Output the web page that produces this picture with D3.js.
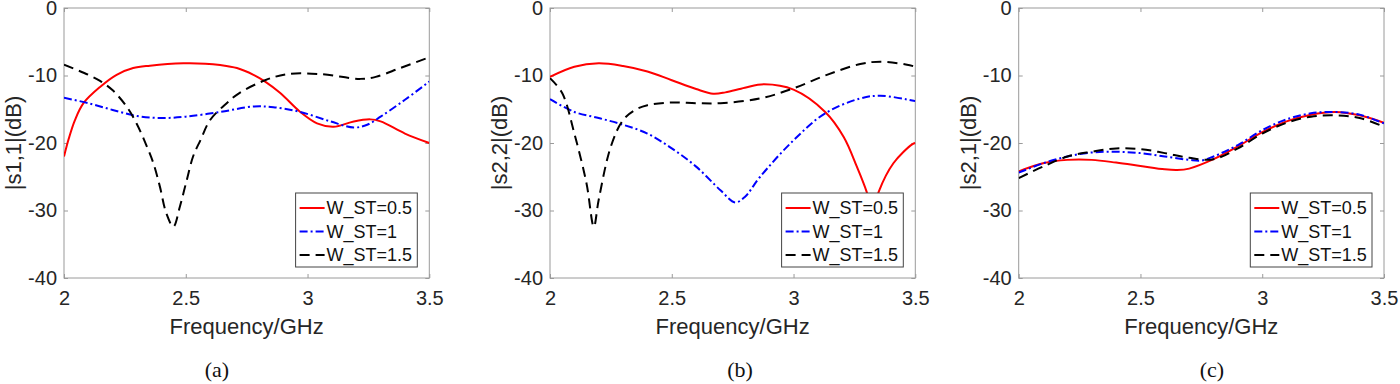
<!doctype html>
<html>
<head>
<script src="https://d3js.org/d3.v7.min.js"></script>
<style>
  body { margin: 0; background: #fff; }
  svg { display: block; }
</style>
</head>
<body>
<svg width="1400" height="384"></svg>
<script>
// ---- data (frequency GHz, dB) ----
var xTicks = [2, 2.5, 3, 3.5];
var xTickLabels = ["2", "2.5", "3", "3.5"];
var yTicks = [0, -10, -20, -30, -40];
var seriesNames = ["W_ST=0.5", "W_ST=1", "W_ST=1.5"];

// (a) |s1,1|
var s11_w05 = [[2,-22],[2.02,-19.3],[2.045,-16.6],[2.08,-14.1],[2.148,-11.7],[2.216,-9.9],[2.284,-8.9],[2.353,-8.55],[2.49,-8.2],[2.58,-8.25],[2.641,-8.45],[2.71,-8.9],[2.778,-9.9],[2.826,-10.9],[2.888,-12.6],[2.97,-15.4],[3.039,-17.1],[3.107,-17.6],[3.19,-16.8],[3.258,-16.5],[3.3,-16.8],[3.4,-18.6],[3.5,-20]];
var s11_w1  = [[2,-13.3],[2.1,-14.1],[2.2,-15.1],[2.3,-16],[2.4,-16.3],[2.5,-16.1],[2.641,-15.4],[2.778,-14.6],[2.86,-14.7],[2.97,-15.4],[3.094,-16.8],[3.19,-17.7],[3.245,-17.3],[3.3,-16.1],[3.4,-13.6],[3.5,-10.9]];
var s11_w15 = [[2,-8.4],[2.1,-9.9],[2.148,-10.8],[2.2,-12.2],[2.257,-14.6],[2.298,-17.1],[2.34,-20.5],[2.367,-23],[2.394,-26.5],[2.42,-30.4],[2.449,-32.4],[2.476,-29.4],[2.504,-25.5],[2.53,-22],[2.56,-19.6],[2.6,-16.6],[2.668,-14.1],[2.72,-12.6],[2.826,-10.7],[2.915,-9.8],[3.052,-9.8],[3.217,-10.5],[3.28,-10.2],[3.38,-8.9],[3.5,-7.3]];

// (b) |s2,2|
var s22_w05 = [[2,-10.2],[2.1,-8.7],[2.2,-8.2],[2.3,-8.6],[2.4,-9.4],[2.5,-10.7],[2.6,-12],[2.67,-12.7],[2.72,-12.5],[2.8,-11.8],[2.88,-11.3],[3.0,-12.1],[3.13,-15.4],[3.206,-19.1],[3.26,-23.5],[3.30,-27.2],[3.325,-30.5],[3.35,-27.2],[3.41,-23],[3.487,-20.2],[3.5,-20]];
var s22_w1  = [[2,-13.5],[2.1,-15.4],[2.2,-16.3],[2.3,-17.3],[2.4,-18.6],[2.5,-20.8],[2.6,-23.5],[2.7,-27],[2.76,-28.8],[2.8,-28],[2.863,-25],[3.0,-19.6],[3.13,-15.6],[3.274,-13.4],[3.356,-13],[3.487,-13.7],[3.5,-13.8]];
var s22_w15 = [[2,-10.4],[2.05,-12.6],[2.1,-18.6],[2.15,-26],[2.18,-32.4],[2.2,-28.4],[2.25,-20.5],[2.3,-16.6],[2.35,-15.1],[2.4,-14.4],[2.5,-14],[2.6,-14.1],[2.7,-14.1],[2.863,-13.4],[3.0,-11.9],[3.137,-9.9],[3.274,-8.3],[3.356,-7.95],[3.466,-8.4],[3.5,-8.7]];

// (c) |s2,1|
var s21_w05 = [[2,-24.2],[2.1,-23],[2.2,-22.5],[2.3,-22.5],[2.4,-22.9],[2.5,-23.4],[2.6,-23.9],[2.65,-24],[2.7,-23.8],[2.8,-22.4],[2.9,-20.5],[3.0,-18.4],[3.1,-16.8],[3.2,-15.8],[3.3,-15.4],[3.4,-15.9],[3.5,-17]];
var s21_w1  = [[2,-24.4],[2.1,-23],[2.2,-22],[2.3,-21.4],[2.4,-21.3],[2.5,-21.5],[2.6,-22],[2.7,-22.5],[2.75,-22.6],[2.8,-22],[2.9,-20.3],[3.0,-18.1],[3.1,-16.5],[3.2,-15.6],[3.3,-15.4],[3.4,-15.8],[3.5,-17.1]];
var s21_w15 = [[2,-25.2],[2.1,-23.5],[2.2,-22],[2.3,-21.3],[2.4,-20.8],[2.5,-20.9],[2.6,-21.5],[2.7,-22.2],[2.8,-22.4],[2.9,-20.8],[3.0,-18.6],[3.1,-17],[3.2,-16.1],[3.3,-15.9],[3.4,-16.3],[3.5,-17.6]];

var panels = [
  { left: 64,    ylabel: "|s1,1|(dB)", caption: "(a)", capX: 217,  series: [s11_w05, s11_w1, s11_w15] },
  { left: 550,   ylabel: "|s2,2|(dB)", caption: "(b)", capX: 740,  series: [s22_w05, s22_w1, s22_w15] },
  { left: 1018.7,ylabel: "|s2,1|(dB)", caption: "(c)", capX: 1212, series: [s21_w05, s21_w1, s21_w15] }
];

var styles = [
  { color: "#ff0000", dash: null },
  { color: "#0000ff", dash: "8,3,2,3" },
  { color: "#000000", dash: "10,6" }
];

var svg = d3.select("svg"),
    plotW = 365.3,
    plotTop = 8,
    plotBottom = 278,
    font = "Liberation Sans, Arial, Helvetica, sans-serif";

panels.forEach(function(p, pi) {
  var x = d3.scaleLinear().domain([2, 3.5]).range([p.left, p.left + plotW]);
  var y = d3.scaleLinear().domain([-40, 0]).range([plotBottom, plotTop]);
  var g = svg.append("g");

  var clipId = "clip" + pi;
  g.append("clipPath").attr("id", clipId)
    .append("rect").attr("x", p.left).attr("y", plotTop).attr("width", plotW).attr("height", plotBottom - plotTop);

  // box
  g.append("rect")
    .attr("x", p.left).attr("y", plotTop)
    .attr("width", plotW).attr("height", plotBottom - plotTop)
    .style("fill", "none").style("stroke", "#9a9a9a").style("stroke-width", 1);

  // axes with inward ticks
  var xa = g.append("g").attr("transform", "translate(0," + plotBottom + ")")
    .call(d3.axisBottom(x).tickValues(xTicks).tickFormat(function(d, i) { return xTickLabels[i]; })
      .tickSize(-4).tickPadding(13));
  var xt = g.append("g").attr("transform", "translate(0," + plotTop + ")")
    .call(d3.axisTop(x).tickValues(xTicks).tickSize(-4).tickFormat(""));
  var ya = g.append("g").attr("transform", "translate(" + p.left + ",0)")
    .call(d3.axisLeft(y).tickValues(yTicks).tickFormat(d3.format("d")).tickSize(-4).tickPadding(7));
  var yr = g.append("g").attr("transform", "translate(" + (p.left + plotW) + ",0)")
    .call(d3.axisRight(y).tickValues(yTicks).tickSize(-4).tickFormat(""));
  [xa, xt, ya, yr].forEach(function(a) {
    a.select(".domain").remove();
    a.selectAll("line").style("stroke", "#9a9a9a");
    a.selectAll("text").style("font-family", font).style("font-size", "20px").style("fill", "#262626");
  });
  ya.selectAll("text").text(function(d) { return d === 0 ? "0" : "-" + Math.abs(d); });

  // curves
  var line = d3.line()
    .x(function(d) { return x(d[0]); })
    .y(function(d) { return y(d[1]); })
    .curve(d3.curveCatmullRom.alpha(0.5));

  p.series.forEach(function(s, si) {
    g.append("path")
      .datum(s)
      .attr("d", line)
      .attr("clip-path", "url(#" + clipId + ")")
      .style("fill", "none")
      .style("stroke", styles[si].color)
      .style("stroke-width", 2)
      .style("stroke-dasharray", styles[si].dash);
  });

  // legend
  var lx = p.left + plotW - 12 - 121.7, ly = 193;
  var lg = g.append("g").attr("transform", "translate(" + lx + "," + ly + ")");
  lg.append("rect").attr("width", 121.7).attr("height", 74)
    .style("fill", "#fff").style("stroke", "#444").style("stroke-width", 1);
  seriesNames.forEach(function(name, i) {
    var ry = 15 + i * 23.5;
    lg.append("line").attr("x1", 4).attr("x2", 29).attr("y1", ry).attr("y2", ry)
      .style("stroke", styles[i].color).style("stroke-width", 2)
      .style("stroke-dasharray", styles[i].dash);
    lg.append("text").attr("x", 31).attr("y", ry).attr("dy", "0.36em")
      .style("font-family", font).style("font-size", "18px").style("fill", "#111")
      .text(name);
  });

  // axis labels
  g.append("text")
    .attr("x", p.left + plotW / 2).attr("y", 334)
    .attr("text-anchor", "middle")
    .style("font-family", font).style("font-size", "22px").style("fill", "#262626")
    .text("Frequency/GHz");
  g.append("text")
    .attr("text-anchor", "middle")
    .attr("transform", "translate(" + (p.left - 43) + "," + ((plotTop + plotBottom) / 2) + ")rotate(-90)")
    .style("font-family", font).style("font-size", "22px").style("fill", "#262626")
    .text(p.ylabel);

  // caption
  g.append("text")
    .attr("x", p.capX).attr("y", 377)
    .attr("text-anchor", "middle")
    .style("font-family", "Liberation Serif, Times New Roman, serif").style("font-size", "22px").style("fill", "#111")
    .text(p.caption);
});
</script>
</body>
</html>
